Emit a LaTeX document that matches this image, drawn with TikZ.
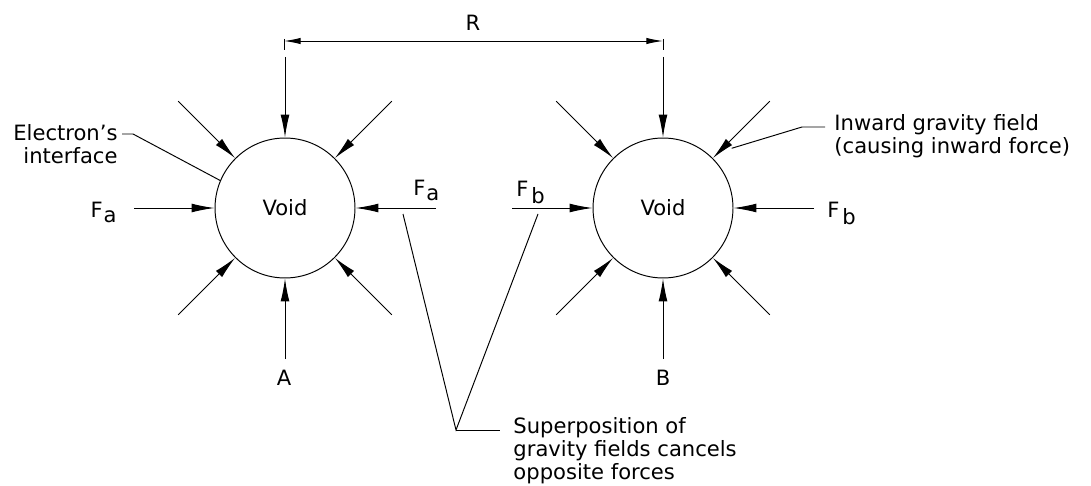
\documentclass[tikz,border=0pt]{standalone}
\usepackage{fontspec}
\setmainfont{DejaVu Sans}
\usetikzlibrary{arrows.meta,calc}

\newcommand{\Fa}{F\kern0.5pt\raisebox{-3pt}{a}}
\newcommand{\Fb}{F\kern1.5pt\raisebox{-4pt}{b}}

\begin{document}
\begin{tikzpicture}[x=0.02cm, y=0.02cm,
    feld/.style={-{Latex[length=13pt,width=5pt]}},
    hohl/.style={draw, circle, minimum size=2.8cm, inner sep=0pt},
    txt/.style={inner sep=0pt},
    >={Latex[length=9.5pt,width=3.6pt]},   %Pfeilspitzen der Bemassung
    font=\fontsize{12}{13}\selectfont, line width=0.55pt]
    %Bildbereich
    \useasboundingbox (0,0) rectangle (1091,-486);
    %Hohlraeume
    \node[hohl] (cA) at (285,-208) {Void};
    \node[hohl] (cB) at (663,-208) {Void};
    %Feldpfeile
    \foreach \k in {cA,cB}
      \foreach \w in {0,45,...,315} {
        \coordinate (\k-\w) at ($(\k)+(\w:151)$);
        \draw[feld] (\k-\w) -- (\k.\w);
      }
    %Bemassung R
    \coordinate (dA) at (284,-41);
    \coordinate (dB) at (663,-41);
    \draw ([yshift=0.04cm]dA) -- ([yshift=-0.18cm]dA);
    \draw ([yshift=0.04cm]dB) -- ([yshift=-0.18cm]dB);
    \draw[<->] (dA) -- (dB);
    \node[txt] (R) at (473,-23) {R};
    %Kraefte beschriften
    \node[txt, anchor=base east] (faL) at (117,-217) {\Fa};
    \node[txt, anchor=base west] (faR) at (413,-195) {\Fa};
    \node[txt, anchor=base west] (fbL) at (516,-196) {\Fb};
    \node[txt, anchor=base west] (fbR) at (827,-217) {\Fb};
    \node[txt] (labA) at (284,-378) {A};
    \node[txt] (labB) at (663,-378) {B};
    %Hinweise
    \node[txt, anchor=east, align=right] (elec) at (118,-144) {Electron's\\interface};
    \coordinate (kE1) at (122,-134);
    \coordinate (kE2) at (133,-134);
    \draw (kE1) -- (kE2) -- (cA.157);
    \node[txt, anchor=west, align=left] (inw) at (834,-136) {Inward gravity field\\(causing inward force)};
    \coordinate (kI0) at ($(cB)+(41:91)$);
    \coordinate (kI1) at (802,-127);
    \coordinate (kI2) at (825,-127);
    \draw (kI0) -- (kI1) -- (kI2);
    \node[txt, anchor=north west, align=left] (sup) at (513,-417)
      {Superposition of\\gravity fields cancels\\opposite forces};
    \coordinate (sA) at (403,-214);
    \coordinate (sB) at (538,-214);
    \coordinate (kS) at (456,-430);
    \coordinate (kS2) at (500,-430);
    \draw (sA) -- (kS) -- (sB);
    \draw (kS) -- (kS2);
\end{tikzpicture}
\end{document}
